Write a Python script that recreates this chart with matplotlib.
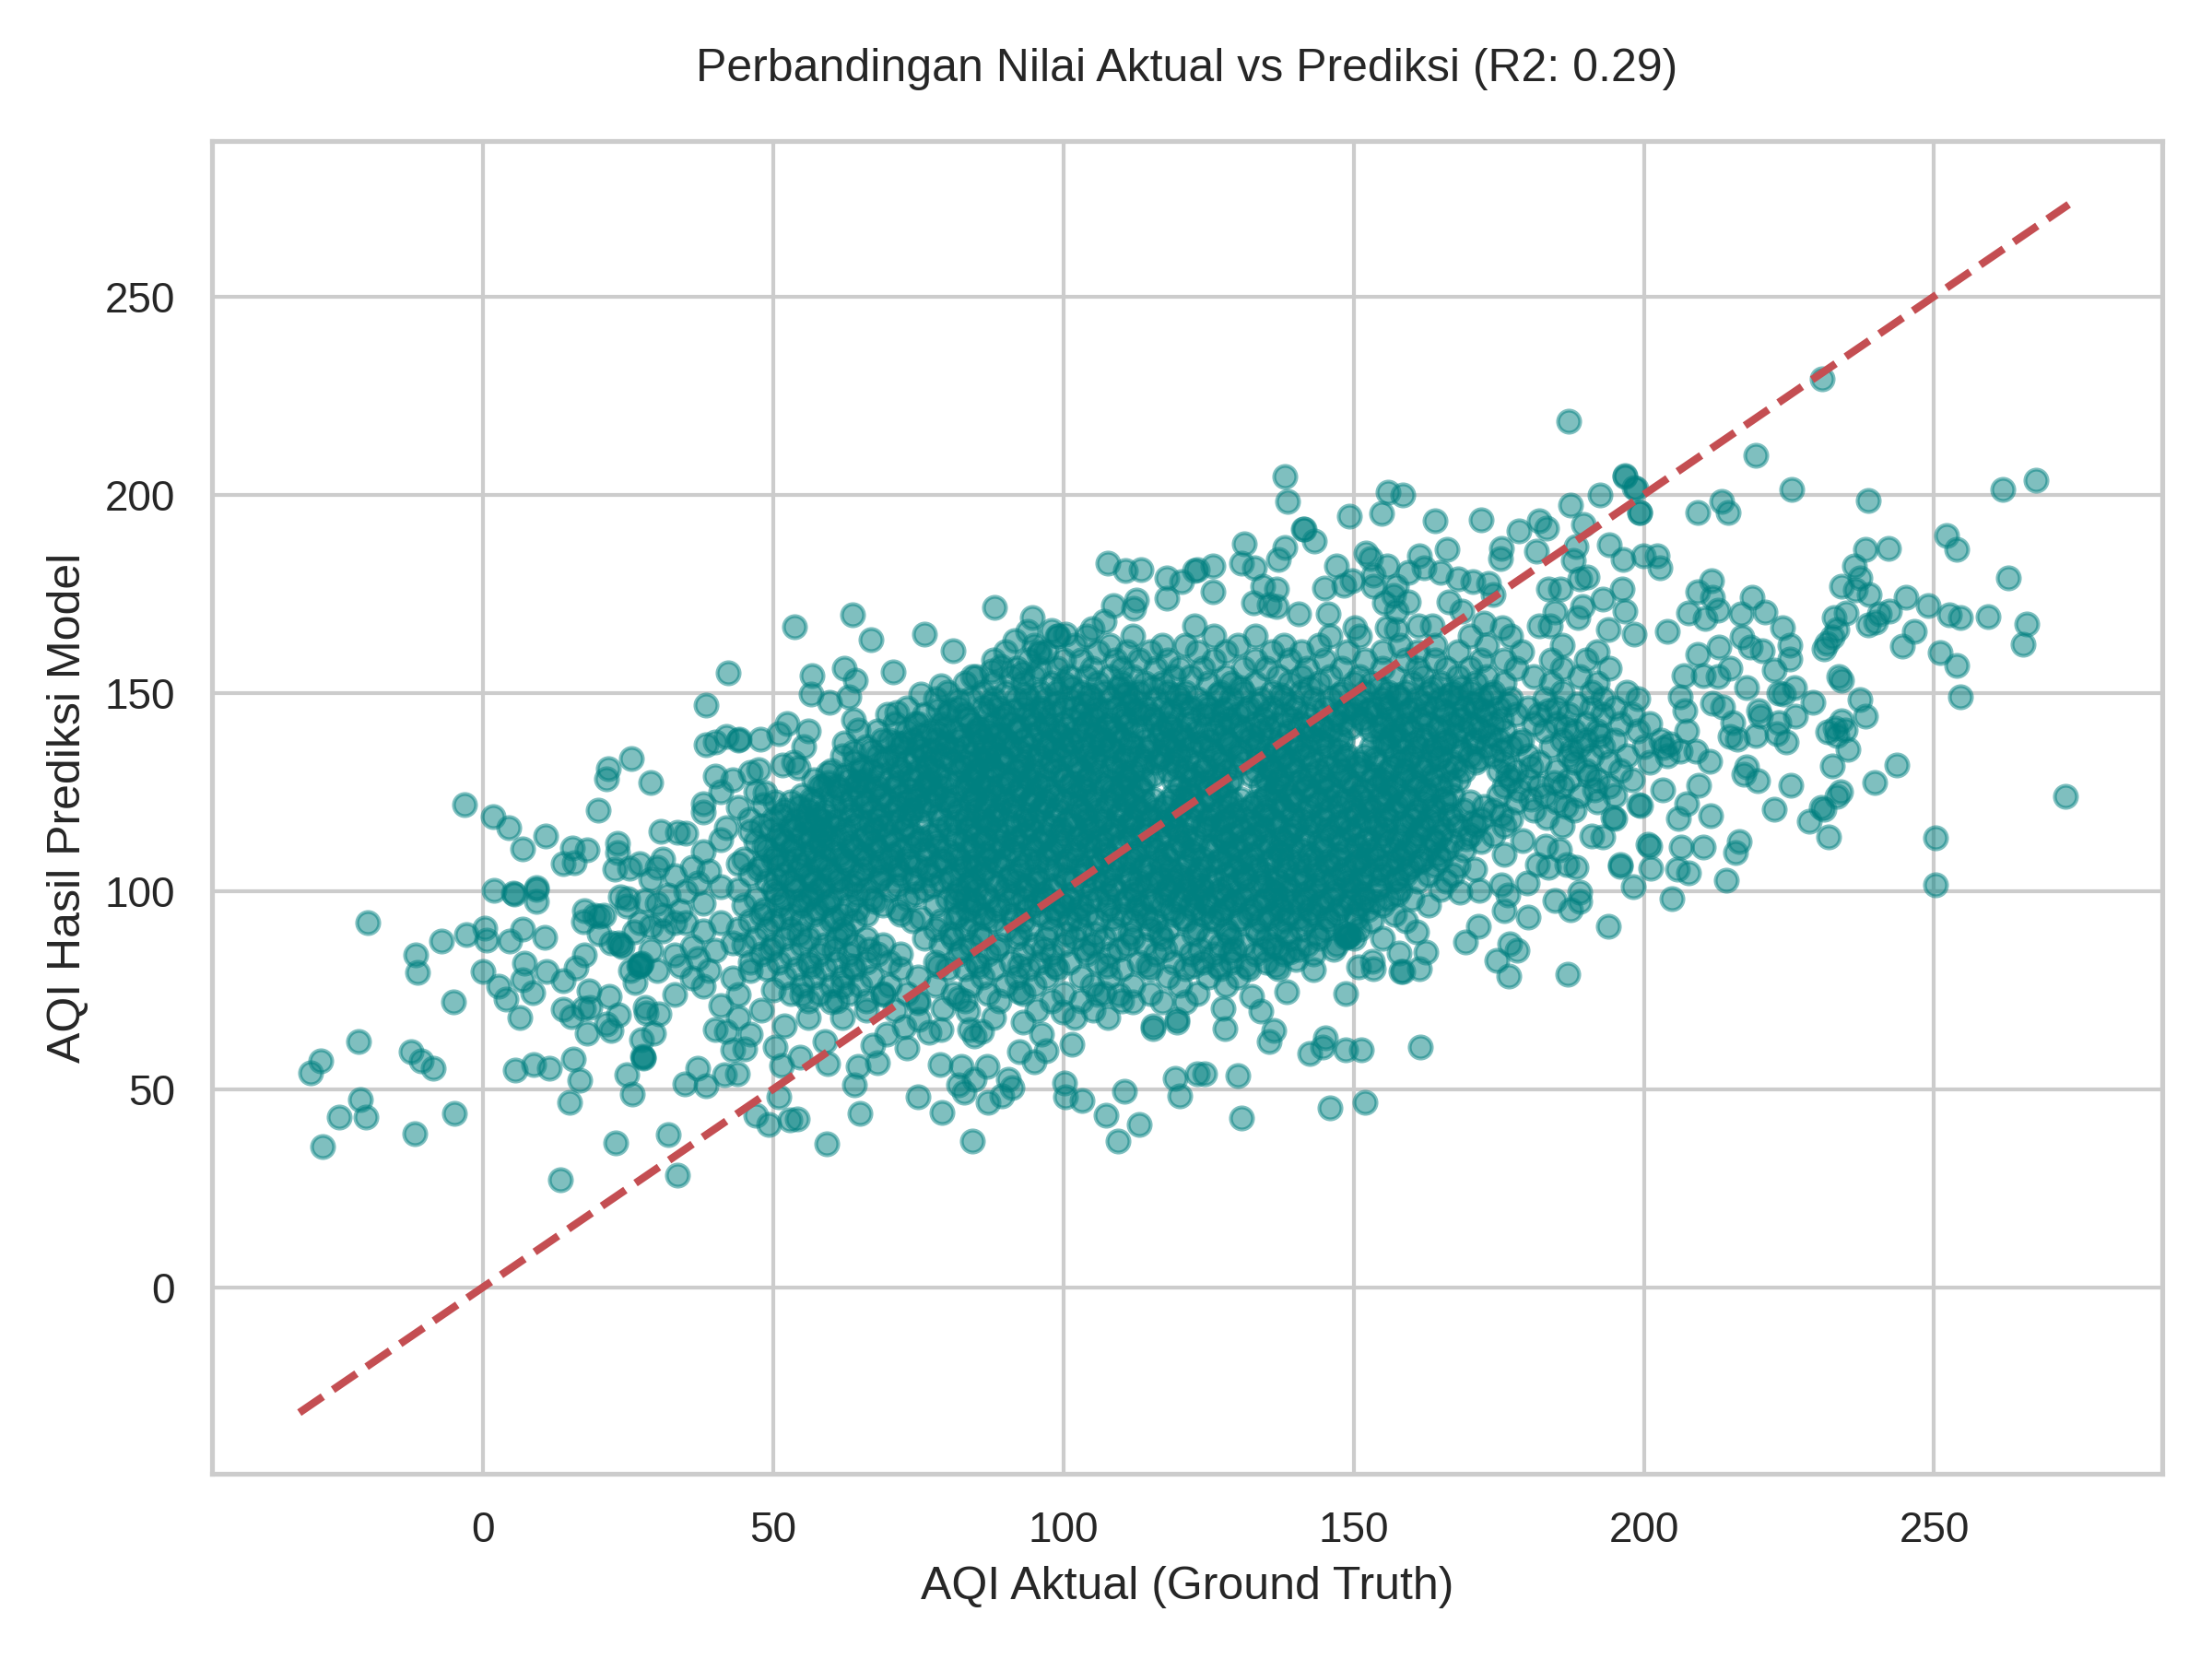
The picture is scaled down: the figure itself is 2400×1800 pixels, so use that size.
import matplotlib
matplotlib.use("Agg")
import matplotlib.pyplot as plt
import seaborn as sns

# tails and outliers as (actual, predicted)
left_tail = [(-3.2,121.9),(1.7,118.7),(4.5,116),(6.9,110.6),(10.8,113.8),(15.5,110.8),(18,110.3),(13.9,106.8),(15.8,107.1),
    (19.8,120.4),(21.3,128.3),(21.6,130.9),(25.6,133.3),(28.9,127.4),(23.2,112),(23.2,109.6),(22.8,105.4),(25.3,105.8),
    (2,100.2),(5.3,99.4),(9.2,100.4),(9.3,100.8),(9.3,97.3),(5.4,99.2),(-19.8,92),(0.4,90.7),(0.6,87.7),(-2.9,89),(-7.1,87.4),
    (4.7,87.4),(6.9,90.5),(10.6,88.4),(-11.5,84),(-11.3,79.4),(0,79.7),(7.2,81.7),(6.9,77.6),(11,79.6),(8.6,74.4),(13.9,77.4),
    (16.1,80.7),(17.5,83.8),(2.7,75.9),(4,72.8),(6.4,68.1),(-5,72.1),(-21.4,62.1),(-27.9,57.1),(-29.6,54.2),(-12.3,59.4),
    (-10.6,57.2),(-8.5,55.2),(5.6,54.9),(8.8,56.2),(11.4,55.2),(15.6,57.6),(16.7,52.2),(15,46.6),(-21.1,47.5),(-24.8,42.9),
    (-20.1,42.9),(-4.9,43.8),(-11.7,38.7),(-27.6,35.6),(13.4,27.2),(22.9,36.5),(31.9,38.6),(33.5,28.4),(24.8,53.7),(25.8,48.7),
    (37,55.4),(34.8,51.4),(38.4,50.8),(41.6,53.7),(27.5,58.3),(27.7,57.9),(27.6,58.1),(27.4,62.6),(29.4,64.1),(13.8,70.1),
    (15.2,68.4),(17.9,64.1),(18.3,74.9),(21.7,73.4),(18.4,70.7),(17.4,70.3),(21.3,66.4),(22.1,64.9),(23.4,68.8),(27.9,70.7),
    (28.2,69.3),(30.3,69.1),(26.2,76.9),(25.5,79.9),(27.1,81.6),(27.3,81.8),(26.8,81.2),(27,81),(23.7,86.5),(24,86),(23.4,87),
    (22.1,86.9),(17.5,95),(17.4,92.3),(20.8,93.8),(20,93.6),(19.3,94),(23.7,98.5),(24.8,96.1),(26.1,89.8),(20,89.2),(27.9,97.5),
    (30,97),(31,94),(29,91),(33,92),(30.6,115),(33.5,114.8),(35,114.6),(38,110),(41,113),(30,106),(27,107),(29,103),(33,104),
    (36,106),(39,105),(41,101),(44,107),(38,97),(34,95),(27,92),(25,98),(31,90),(35,92),(38,90),(41,92),(29,85),(33,84),(36,86),
    (40,85),(43,87),(39,80),(36,78),(43,78),(46,80),(33,74),(38,76),(41,71),(44,74),(40,65),(44,68),(43,60),(46,64),(42,64.5),
    (38.4,146.9),(42.3,155),(38.5,137),(40,137.5),(42,139),(44,138),(40,129),(43,128),(38,122),(41,125),(44,121),(38,120),
    (42,116),(46,130),(47,125),(46,115),(44.1,138.4),(47.8,138.4),(31,108),(35,100),(37,102),(32,99),(37,83),(30,80),(34,81)]

lower_band = [(51,48.2),(47.1,43.4),(49.3,41),(52.9,42.2),(54.1,42.6),(59.2,36.3),(65,44),(64,51.1),(64.6,55.7),(68,56.6),
    (59.4,56.5),(54.6,58),(51.5,56.1),(50.4,60.7),(45.1,60.1),(43.8,53.9),(67.2,61),(73.1,60.3),(69.6,64),(76.9,64.4),(79,65),
    (72.6,65.7),(75.2,67.7),(74.9,71.9),(79.2,70.5),(83.5,69.6),(83.8,65),(85.9,64.6),(84.6,63.4),(78.7,56.3),(75,48.1),(79.1,44.1),
    (82.5,55.7),(86.9,55.7),(84.6,52.6),(81.9,51.1),(82.9,49.3),(87,46.8),(89.4,48.4),(90.5,52.6),(91.1,50.3),(84.4,37),(100.2,51.5),
    (100.4,48),(103.2,47.2),(107.3,43.5),(110.6,49.5),(113.1,41),(109.4,37),(101.5,61.3),(92.4,59.4),(95,56.9),(97,59.6),(96.3,64),
    (95.4,70),(92.5,74.6),(99.9,69.4),(102,68),(107.7,68),(105.2,70),(109.5,73.8),(115.4,65.4),(115.4,66.1),(119.6,66.9),(119.6,67.5),
    (119.3,52.8),(120.1,48.4),(123,53.8),(124.4,53.9),(130,53.4),(130.7,42.7),(145.9,45.3),(152,46.7),(142.5,59),(144.7,60.6),(145.2,62.9),
    (148.6,60),(151.3,60),(161.5,60.6),(135.4,62.1),(136.2,64.8),(127.9,65.2),(134,69.8),(138.5,74.6),(148.7,74.2),(143.1,80.2),
    (150.8,80.8),(153.4,80.4),(153.2,82.3),(158.5,79.6),(158.2,79.6),(161.4,80.4),(162.4,84.6),(157.9,84.3),(186.9,79.1),(174.6,82.6),
    (176.7,78.6),(176.9,86.6),(178.2,85),(169.2,87.2),(171.5,91.2),(193.9,91),(127.5,70.4),(132.5,73.5),(128.8,84.6),(138.9,84.6),
    (140,82.7),(136.8,85.8),(160.8,89.7),(148.9,88.5),(149.1,88.7),(148.6,88.2),(149.4,88.9),(56,68),(60,72),(62,76),(52,66),(55,74),
    (48,70),(50,75),(66,70),(69,74),(59,62),(62,68),(71,70),(82,73),(88,68),(93,67),(106,74),(112,72),(117,72),(121,72)]

upper_band = [(138.1,204.5),(138.7,198.3),(141.3,191.4),(141.5,191.2),(143.3,188.3),(138.1,186.7),(137.1,183.6),(131.1,187.5),(130.7,182.6),
    (132.9,181.5),(125.8,181.9),(123,181),(125.8,175.5),(134.3,176.9),(136.7,176.1),(132.8,172.6),(136.7,171.8),(135.4,172.2),(140.5,169.9),
    (145.6,169.9),(145,176.5),(147,181.9),(148.3,177.2),(149.7,178.2),(149.3,194.6),(154.8,195.2),(155.9,200.5),(158.4,200),(164,193.4),
    (172,193.7),(178.5,190.9),(182,193.3),(183.3,191.5),(187.4,197.3),(192.5,200),(196.7,204.6),(198.6,201.5),(199.3,195.4),(189.6,192.4),
    (188.4,186.9),(181.5,185.7),(175.5,186.5),(175.3,183.8),(194,187.3),(196.5,183.6),(199.9,184.6),(202.3,184.6),(202.8,181.5),(187.9,183.4),
    (190.3,179.3),(189,178.8),(183.6,176.1),(185.7,176.1),(196.3,176.3),(193,173.6),(196.7,170.7),(184.7,170.3),(189.4,171.8),(182,166.8),
    (183.9,166.8),(188.6,169.1),(193.9,166),(198.4,164.9),(166.1,186.3),(161.3,184.6),(152.2,185.3),(152.9,183.8),(155.8,181.9),(153.4,179.6),
    (153.4,176.9),(159.4,180.3),(162.1,181.5),(165,180.3),(168,178.8),(170.5,178),(173.2,177.6),(174,174.9),(166.4,173),(168.7,170.7),
    (172.4,167.6),(175.6,166.4),(157.4,176.9),(159.5,173),(155.3,172.6),(156.9,174.5),(157.4,170.7),(150.3,166.4),(155.8,166.4),(157.4,166),
    (161.2,166.8),(163.5,166.8),(53.7,166.6),(63.7,169.8),(66.9,163.5),(76.1,164.7),(81,160.6),(88.1,171.6),(56.7,154.4),(62.2,156.3),
    (64.1,153.2),(70.7,155.2),(56.5,149.8),(59.8,147.5),(63.1,149.1),(75.4,149.8),(78.9,151.7),(84.4,154.1),(87.7,155.4),(89.2,156.6),
    (92.9,155),(91.6,163.1),(94.6,168.9),(93.8,165.4),(98,165.8),(100.4,164.7),(95.7,160),(95.9,160.4),(99.1,164.3),(105,166.2),(107.1,168.1),
    (108.7,172.1),(112.1,171.4),(112.6,173.5),(107.6,182.8),(110.7,180.9),(113.4,181),(117.8,178.9),(120.4,178),(117.8,173.9),(122.6,180.9),
    (122.6,167),(52.4,142.3),(56,140.4),(51,139.6),(63.9,143.1),(64.7,140.7),(62.3,137.4),(63.9,135),(66.8,135.3),(68.7,138),(69.7,144.6),
    (71.3,145),(74.5,142.3),(72.6,137.3),(75.6,135.7),(78.5,145.8),(80.3,145.8),(81.9,148.1),(78.5,139.6),(85.3,139.6),(89.3,139.6),(55.2,136.5),
    (54.4,131),(53.6,132.6),(51.7,131.9),(47.5,130.7),(64.7,127.6),(59.4,129.6),(58.6,126.5),(48.6,124.9),(50.4,122.6),(48.3,121.8),(55.7,118.4),
    (45.9,118),(86.9,133.4),(187,218.5)]

right_tail = [(230.7,229.2),(219.3,209.8),(196.7,204.7),(198.4,201.8),(199.3,195.6),(209.3,195.4),(213.4,198.2),(214.6,195.4),(225.4,201.3),
    (238.6,198.5),(261.8,201.3),(267.5,203.6),(252.1,189.8),(253.9,186.2),(238.1,186.2),(242.1,186.5),(236.2,182),(237.3,178.9),(234.1,176.9),
    (236.5,176),(238.8,174.7),(245.1,174),(248.9,172),(252.6,169.8),(254.6,168.9),(259.3,169.3),(262.8,179),(266,167.3),(265.3,162.3),
    (246.6,165.4),(244.6,161.7),(251,160.2),(253.9,156.9),(254.5,149.1),(234.9,170.2),(232.8,169.1),(242.3,170.6),(240.5,170),(238.6,167.1),
    (240,167.8),(233.3,166),(231,161.1),(231.5,162.5),(232.5,164.2),(234.1,153.1),(233.5,154),(237.2,148.2),(238.1,144),(229.1,147.5),(225.9,151.3),
    (226.1,144),(223.3,150),(224,149.6),(223.3,142.4),(223,139.8),(224.6,137.5),(219.3,139.3),(219.8,145.6),(220.1,144.2),(215.3,142.4),(214.8,138.9),
    (216.1,138.4),(217.7,151.3),(218.6,174),(220.9,170.5),(223.9,166.5),(225.1,162),(225.1,158.5),(216.7,170),(211.6,178.2),(209.3,175.4),(211.8,174),
    (212.8,170.9),(207.7,170.2),(210.6,168.7),(204,165.6),(213,161.6),(216.9,164.2),(218.3,161.6),(220.4,160.7),(222.5,155.8),(209.3,159.6),(206.9,154.4),
    (210.3,154.4),(214.8,156.2),(212.7,154),(206.3,149.1),(207.1,145.6),(211.8,147.3),(213.5,146.4),(207.4,140.5),(209,135.3),(211.3,132.8),(206.3,135.3),
    (203.4,136.2),(204.5,137.1),(217.7,131.3),(217.2,129.5),(219.6,127.8),(225.3,126.7),(209.4,126.7),(203.2,125.6),(199.5,121.5),(207.4,122),(205.9,118.4),
    (211.5,118.9),(216.4,112.6),(215.8,109.7),(210.3,111),(206.5,111),(201,111.3),(201.2,105.8),(205.8,105.5),(207.7,104.6),(214.2,102.8),(198.1,101),(204.8,98.1),
    (196,106.2),(195,118.4),(222.4,120.6),(232.4,131.6),(235.1,135.8),(231.7,140.2),(233,141.1),(234.7,140.7),(234.1,142.9),(233.3,139.3),(243.5,131.8),
    (239.8,127.3),(233.9,125.1),(233.3,123.8),(231,120.6),(230.5,121),(228.5,117.5),(231.9,113.7),(272.6,123.9),(250.2,113.4),(250.2,101.5),
    (179.1,112.8),(183.1,111.3),(185.4,110.5),(175.9,109.3),(181.7,106.6),(183.5,105.9),(186.8,106.6),(188.4,105.9),(194.6,118.6),(199.1,121.7),(200.7,111.7),
    (195.9,106.6),(191,114),(192.9,113.6),(183.3,118.6),(175.4,101.6),(179.9,102),(170.9,105.5),(168.3,99.7),(171.7,100.1),(175.9,95),(180,93.5),(184.7,97.5),
    (188.9,99.7),(188.9,97.4),(187.3,95.4),(176.5,98.9)]

# dense middle of the cloud, one list of actual values per predicted level
core_levels = [164.3,162.1,160.4,158.2,156.3,154.1,152.4,150.2,148.5,146.3,144.6,142.2,140.5,138.1,136.4,134.2,132.5,130.3,128.1,126.4,124.2,
               122.5,120.3,118.1,116.4,114.2,112.5,110.3,108.1,106.4,104.2,102.5,100.3,98.1,96.4,94.2,92.5,90.3,88.1,86.4,84.2,82.1,80.4,78.2,76.3,74.1,72.3]
core_actual = [
    [99,104,112,126,133,146,151,170,177],
    [95,102,108,117,121,130,138,144,158,164,173,186],
    [90,97,106,111,115,123,128,136,141,149,155,161,168,179,192],
    [88,94,100,103,109,113,118,126,133,139,145,152,159,164,172,176,184,190],
    [92,96,99,105,110,116,120,124,131,135,142,148,155,161,166,170,178,186,194],
    [85,91,95,101,104,108,112,119,122,128,137,141,146,151,157,162,168,173,181,189],
    [83,88,93,98,100,106,110,114,117,125,129,133,139,144,150,153,160,165,171,176,184,192],
    [80,86,90,96,99,103,107,111,113,118,121,127,131,136,141,148,152,156,159,163,167,170,174,186,191,197],
    [78,84,88,92,94,97,101,105,108,112,116,120,123,129,134,138,143,146,151,155,158,161,165,168,172,177,183,193,199],
    [73,82,86,89,93,96,100,102,106,109,114,117,122,125,128,132,136,140,145,149,153,156,160,164,169,171,175,180,185,191,195],
    [76,80,83,87,90,94,98,103,105,110,113,115,119,124,126,130,135,138,142,147,150,154,158,162,166,168,173,178,182,187,193,198],
    [71,75,79,84,88,91,95,97,100,104,108,111,116,118,122,127,129,133,137,141,144,148,152,155,159,163,167,170,174,181,185,190,196,201],
    [68,73,77,81,85,87,92,96,99,102,106,109,112,117,120,123,126,131,134,139,143,146,153,157,160,165,169,172,176,183,188,192,199],
    [70,74,78,82,86,90,93,98,101,103,107,110,114,119,121,125,128,132,136,140,144,148,155,158,162,166,171,175,179,186,190,195,203],
    [66,72,75,80,83,88,91,94,97,100,105,108,112,115,118,122,124,129,133,137,142,146,153,156,161,164,168,173,177,184,189,193,200],
    [62,68,71,76,79,84,87,89,94,96,101,104,107,111,113,117,120,126,130,135,138,141,145,149,152,157,160,165,170,174,180,187,191,197,204],
    [64,69,73,77,81,83,86,90,93,98,102,105,109,114,116,119,123,127,131,134,139,143,147,151,154,158,163,167,171,176,182,188,194,201],
    [60,65,67,72,75,78,82,85,88,92,95,99,103,106,110,112,118,121,124,128,133,136,140,144,148,152,156,159,162,166,169,175,178,185,190,196],
    [57,63,66,70,74,77,80,84,87,91,94,97,100,104,108,111,114,119,122,126,129,135,137,141,145,149,153,155,160,164,168,177,180,187,192,198],
    [58,61,64,68,71,76,79,83,86,89,93,96,101,103,107,110,113,120,123,127,134,138,142,146,150,154,157,161,165,176,182,186,194],
    [55,60,65,69,72,75,78,81,85,88,92,95,98,102,105,109,112,119,122,125,128,135,139,143,147,151,156,159,163,167,175,183,189,195],
    [53,57,62,66,70,73,77,80,84,87,90,94,97,100,104,108,111,114,118,121,124,129,133,137,140,144,148,152,155,158,162,166,170,178,185,192],
    [52,56,59,63,67,71,74,76,82,85,89,91,96,99,103,106,110,113,116,120,123,127,131,135,138,142,146,150,153,157,161,164,169,174,181,188],
    [50,54,58,61,65,68,72,79,83,86,88,93,95,101,104,107,112,115,118,122,125,128,132,136,141,145,149,152,156,160,163,167,172,177],
    [48,53,57,60,64,69,73,80,84,87,92,94,98,102,105,109,111,117,119,124,126,130,134,137,140,143,147,151,154,159,162,168,171,176,186],
    [51,55,59,62,66,70,74,77,81,85,90,93,97,100,103,108,112,114,118,121,127,129,133,139,142,146,150,155,158,161,165,170,174],
    [47,52,56,58,63,67,71,75,78,83,86,89,92,96,99,104,106,110,115,120,123,128,131,135,138,144,148,152,156,160,164,167,172],
    [49,53,57,60,64,68,72,76,80,84,88,91,95,98,102,107,113,116,119,122,126,130,134,137,141,145,149,153,157,159,163,166,169],
    [45,50,54,59,62,66,70,73,79,82,87,90,94,97,101,105,109,112,118,124,127,132,136,139,143,147,151,154,158,162,165],
    [48,51,55,58,63,67,71,75,78,83,85,89,93,99,103,106,110,114,117,121,125,129,133,138,142,146,150,152,156,160,164,168],
    [46,52,56,60,65,69,72,77,81,86,91,95,100,104,108,111,115,120,123,128,131,135,140,144,148,153,155,159,163,167],
    [49,53,57,61,64,68,74,79,84,88,92,96,102,107,113,116,119,122,126,130,134,137,141,145,149,151,157,161,166],
    [44,50,54,58,62,66,70,76,82,85,90,94,98,105,109,112,118,121,124,127,132,136,139,143,147,150,154,158,165],
    [47,52,56,60,67,73,80,83,87,93,97,101,106,111,115,120,123,128,131,135,138,142,146,152,156,160],
    [45,51,55,59,63,69,78,85,89,95,100,103,108,113,117,122,125,129,133,137,141,144,148,151,155,163],
    [48,53,57,62,66,72,82,86,91,96,99,104,110,114,119,124,127,132,136,139,143,147,150,157],
    [46,50,55,60,64,74,79,84,88,93,101,106,112,116,121,126,130,134,138,142,146,153,159],
    [44,49,53,58,62,78,83,90,94,98,103,109,115,118,123,128,133,137,141,145,151],
    [47,52,56,61,66,76,81,86,92,97,102,107,112,117,125,129,135,139,144,150,155],
    [45,50,55,59,64,69,79,84,89,95,100,105,111,114,120,127,131,136,142,147],
    [48,53,58,63,68,72,82,87,93,98,104,108,116,122,126,133,138,143],
    [46,51,56,61,66,70,78,85,91,96,101,106,113,119,124,129,135],
    [49,54,59,64,72,80,83,88,94,99,110,115,121,127,132,137],
    [52,57,62,67,75,86,92,97,103,108,118,125,130],
    [55,60,65,70,78,84,90,95,105,112,120,128],
    [53,58,63,69,73,81,87,93,100,107,115,123],
    [56,61,66,75,83,89,98,103,110],
]

# second pass over the solid part, levels fall between the ones above
solid_levels = [151.3,149.4,147.2,145.5,143.3,141.4,139.2,137.3,135.4,133.3,131.4,129.2,127.3,125.4,123.3,121.4,119.2,117.3,115.4,113.3,
                111.4,109.2,107.3,105.4,103.3,101.4,99.2,97.3,95.4,93.3,89.2,85.3,81.2]
solid_actual = [
    [101.5,109.5,115.5,130.5,142.5,154.5,163.5,168.5],
    [93.5,104.5,110.5,119.5,126.5,137.5,147.5,157.5,166.5,173.5],
    [87.5,98.5,103.5,111.5,120.5,124.5,133.5,139.5,150.5,155.5,162.5,170.5,176.5,188.5],
    [91.5,96.5,107.5,112.5,118.5,127.5,131.5,143.5,148.5,152.5,159.5,165.5,172.5,183.5],
    [83.5,89.5,94.5,101.5,105.5,110.5,115.5,121.5,128.5,134.5,139.5,146.5,151.5,156.5,161.5,168.5,175.5],
    [79.5,85.5,92.5,97.5,103.5,107.5,113.5,118.5,124.5,130.5,135.5,141.5,144.5,149.5,154.5,158.5,164.5,171.5,186.5],
    [75.5,82.5,88.5,94.5,99.5,105.5,109.5,116.5,120.5,127.5,132.5,137.5,142.5,147.5,156.5,162.5,167.5,173.5,192.5],
    [71.5,79.5,84.5,90.5,96.5,101.5,106.5,111.5,117.5,123.5,128.5,133.5,139.5,144.5,155.5,160.5,165.5,170.5,178.5],
    [77.5,81.5,86.5,92.5,98.5,103.5,108.5,114.5,119.5,125.5,130.5,136.5,140.5,147.5,158.5,163.5,168.5,175.5,187.5],
    [69.5,74.5,79.5,85.5,89.5,95.5,99.5,105.5,110.5,116.5,121.5,127.5,133.5,137.5,142.5,148.5,153.5,159.5,164.5,171.5],
    [65.5,71.5,76.5,82.5,87.5,92.5,97.5,102.5,108.5,113.5,119.5,124.5,129.5,135.5,139.5,145.5,150.5,156.5,161.5,167.5,180.5],
    [62.5,68.5,73.5,78.5,84.5,89.5,93.5,99.5,104.5,110.5,115.5,122.5,126.5,132.5,137.5,142.5,147.5,153.5,158.5,163.5,176.5,190.5],
    [59.5,65.5,71.5,76.5,81.5,85.5,90.5,95.5,101.5,106.5,111.5,124.5,128.5,136.5,140.5,144.5,149.5,155.5,160.5,166.5,184.5],
    [61.5,67.5,73.5,77.5,83.5,87.5,92.5,97.5,103.5,108.5,113.5,121.5,126.5,136.5,141.5,145.5,151.5,156.5,162.5,178.5,191.5],
    [56.5,63.5,68.5,74.5,79.5,84.5,89.5,94.5,99.5,105.5,110.5,115.5,120.5,125.5,130.5,134.5,139.5,145.5,149.5,154.5,159.5,165.5,180.5],
    [54.5,60.5,65.5,71.5,75.5,80.5,86.5,91.5,96.5,102.5,107.5,112.5,117.5,122.5,128.5,132.5,137.5,142.5,147.5,152.5,157.5,163.5,172.5,186.5],
    [51.5,57.5,63.5,68.5,73.5,78.5,83.5,88.5,93.5,98.5,103.5,109.5,114.5,119.5,125.5,129.5,134.5,139.5,144.5,150.5,155.5,160.5,166.5,175.5],
    [55.5,59.5,66.5,70.5,75.5,81.5,86.5,90.5,96.5,100.5,106.5,111.5,116.5,121.5,127.5,132.5,136.5,142.5,147.5,153.5,158.5,164.5,170.5],
    [49.5,53.5,58.5,62.5,67.5,72.5,78.5,83.5,88.5,94.5,99.5,104.5,108.5,113.5,119.5,124.5,130.5,134.5,139.5,145.5,149.5,155.5,161.5,165.5],
    [51.5,56.5,60.5,65.5,69.5,75.5,81.5,86.5,91.5,96.5,102.5,106.5,111.5,116.5,122.5,127.5,132.5,137.5,141.5,147.5,152.5,157.5,163.5,169.5],
    [48.5,53.5,58.5,63.5,67.5,73.5,78.5,84.5,89.5,94.5,99.5,104.5,109.5,114.5,120.5,125.5,129.5,135.5,139.5,144.5,150.5,154.5,160.5],
    [50.5,55.5,61.5,65.5,70.5,76.5,81.5,86.5,92.5,97.5,102.5,107.5,112.5,117.5,122.5,128.5,132.5,137.5,142.5,147.5,152.5,158.5,164.5],
    [52.5,57.5,62.5,68.5,73.5,79.5,84.5,88.5,95.5,100.5,106.5,111.5,116.5,121.5,126.5,130.5,135.5,140.5,145.5,150.5,156.5,161.5],
    [47.5,54.5,59.5,65.5,71.5,76.5,82.5,86.5,92.5,97.5,103.5,108.5,113.5,118.5,123.5,129.5,133.5,138.5,143.5,148.5,154.5,159.5],
    [50.5,56.5,61.5,68.5,74.5,80.5,84.5,90.5,95.5,100.5,105.5,111.5,116.5,120.5,125.5,131.5,136.5,141.5,146.5,151.5,157.5],
    [53.5,58.5,63.5,71.5,77.5,83.5,88.5,93.5,98.5,103.5,108.5,114.5,118.5,123.5,128.5,134.5,138.5,143.5,149.5,154.5],
    [50.5,56.5,64.5,74.5,81.5,86.5,91.5,96.5,101.5,107.5,112.5,117.5,122.5,126.5,130.5,136.5,141.5,146.5,151.5,157.5],
    [54.5,59.5,67.5,81.5,84.5,90.5,95.5,99.5,104.5,110.5,115.5,119.5,124.5,129.5,134.5,139.5,144.5,149.5,153.5],
    [48.5,57.5,64.5,71.5,83.5,88.5,93.5,98.5,102.5,107.5,112.5,118.5,122.5,127.5,132.5,137.5,142.5,147.5,152.5],
    [51.5,60.5,75.5,81.5,86.5,91.5,97.5,102.5,108.5,114.5,120.5,125.5,130.5,135.5,140.5,145.5,150.5],
    [54.5,62.5,80.5,85.5,92.5,100.5,105.5,111.5,116.5,122.5,128.5,133.5,138.5,143.5,148.5],
    [49.5,60.5,66.5,82.5,88.5,96.5,103.5,109.5,117.5,123.5,129.5,134.5,140.5,146.5],
    [56.5,63.5,78.5,85.5,92.5,98.5,107.5,114.5,122.5,126.5,131.5,136.5],
]


def flatten_core(levels, rows):
    points = []
    for level, row in zip(levels, rows):
        for actual in row:
            points.append((actual, level))
    return points


all_points = left_tail + lower_band + upper_band + right_tail
all_points += flatten_core(core_levels, core_actual) + flatten_core(solid_levels, solid_actual)
y_test = [p[0] for p in all_points]
y_pred = [p[1] for p in all_points]

# reference diagonal, spans the data range
ideal_min = -31.6
ideal_max = 273.2

sns.set_theme(style="whitegrid")
plt.rcParams['font.family'] = ['Liberation Sans', 'DejaVu Sans']

fig, ax = plt.subplots(figsize=(8, 6), dpi=300)
ax.scatter(y_test, y_pred, s=33, color="teal", alpha=0.5, linewidths=1)
ax.plot([ideal_min, ideal_max], [ideal_min, ideal_max], color="#c44e52", linestyle="--", linewidth=2)
ax.set_xticks([0, 50, 100, 150, 200, 250])
ax.set_yticks([0, 50, 100, 150, 200, 250])
ax.tick_params(labelsize=11)
ax.set_xlabel("AQI Aktual (Ground Truth)", fontsize=12, labelpad=4)
ax.set_ylabel("AQI Hasil Prediksi Model", fontsize=12, labelpad=4)
ax.set_title("Perbandingan Nilai Aktual vs Prediksi (R2: 0.29)", fontsize=12, pad=15.5)
ax.set_xlim(-46.7, 289.3)
ax.set_ylim(-47, 289.2)
fig.subplots_adjust(left=0.0957, right=0.9775, bottom=0.1117, top=0.915)
fig.savefig("out.png")
